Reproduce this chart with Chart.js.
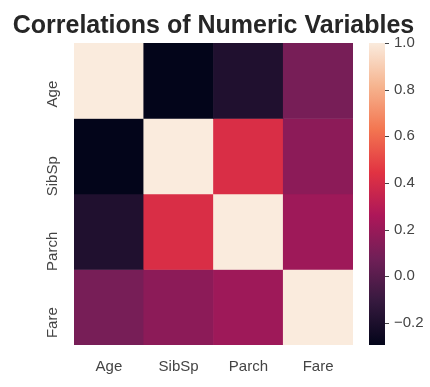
<!DOCTYPE html>
<html>
<head>
<meta charset="utf-8">
<script src="https://cdn.jsdelivr.net/npm/chart.js@4"></script>
<style>
  body { margin: 0; background: #fff; }
  #wrap { position: relative; width: 430px; height: 387px; }
  #heat { position: absolute; left: 0; top: 0; }
  #bar { position: absolute; left: 355px; top: 0; }
</style>
</head>
<body>
<div id="wrap">
  <canvas id="heat" width="430" height="387"></canvas>
  <canvas id="bar" width="75" height="387"></canvas>
</div>
<script>
var variables = ['Age', 'SibSp', 'Parch', 'Fare'];
// correlation matrix, row by row
var rowAge = [1.0, -0.295, -0.189, 0.096];
var rowSibSp = [-0.295, 1.0, 0.415, 0.160];
var rowParch = [-0.189, 0.415, 1.0, 0.216];
var rowFare = [0.096, 0.160, 0.216, 1.0];
var colorbarTicks = [-0.2, 0.0, 0.2, 0.4, 0.6, 0.8, 1.0];
var titleText = 'Correlations of Numeric Variables';

var rows = [rowAge, rowSibSp, rowParch, rowFare];
var vmin = Math.min.apply(null, rows.flat());
var vmax = 1.0;

// seaborn "rocket" colormap stops
var rocket = [
  [0.0, [3, 5, 26]],
  [1/7, [53, 25, 62]],
  [2/7, [112, 31, 87]],
  [3/7, [173, 23, 89]],
  [4/7, [225, 51, 66]],
  [5/7, [243, 118, 81]],
  [6/7, [246, 180, 143]],
  [1.0, [250, 235, 221]]
];

function rocketColor(t) {
  t = Math.max(0, Math.min(1, t));
  for (var i = 1; i < rocket.length; i++) {
    if (t <= rocket[i][0]) {
      var a = rocket[i - 1], b = rocket[i];
      var f = (t - a[0]) / (b[0] - a[0]);
      var c = a[1].map(function (v, k) { return Math.round(v + (b[1][k] - v) * f); });
      return 'rgb(' + c.join(',') + ')';
    }
  }
  return 'rgb(250,235,221)';
}
function valueColor(v) { return rocketColor((v - vmin) / (vmax - vmin)); }

var fontFamily = 'Arial, "Liberation Sans", sans-serif';
var tickFont = { family: fontFamily, size: 15 };
var tickColor = '#444444';

// title centred over the heatmap cells, like matplotlib's ax.set_title
var titlePlugin = {
  id: 'axTitle',
  afterDraw: function (chart) {
    var a = chart.chartArea, c = chart.ctx;
    c.save();
    c.fillStyle = '#262626';
    c.font = 'bold 25px ' + fontFamily;
    c.textAlign = 'center';
    c.textBaseline = 'alphabetic';
    c.fillText(titleText, (a.left + a.right) / 2, 33);
    c.restore();
  }
};

var heatCtx = document.getElementById('heat').getContext('2d');
new Chart(heatCtx, {
  type: 'bar',
  data: {
    labels: variables,
    datasets: rows.map(function (r, i) {
      return {
        label: variables[i],
        data: r.map(function () { return 1; }),
        backgroundColor: r.map(valueColor),
        borderWidth: 0,
        barPercentage: 1,
        categoryPercentage: 1
      };
    })
  },
  options: {
    responsive: false,
    animation: false,
    layout: { padding: { left: 0, right: 77, top: 43, bottom: 0 } },
    plugins: {
      legend: { display: false },
      tooltip: { enabled: false }
    },
    scales: {
      x: {
        stacked: true,
        grid: { display: false },
        border: { display: false },
        ticks: { color: tickColor, font: tickFont, padding: 5, maxRotation: 0 },
        afterFit: function (s) { s.height = 42; }
      },
      y: {
        stacked: true,
        reverse: true,
        min: 0,
        max: 4,
        grid: { display: false },
        border: { display: false },
        afterBuildTicks: function (s) {
          s.ticks = [0.5, 1.5, 2.5, 3.5].map(function (v) { return { value: v }; });
        },
        ticks: {
          color: tickColor,
          font: tickFont,
          minRotation: 90,
          maxRotation: 90,
          padding: 13,
          callback: function (v) { return variables[Math.floor(v)]; }
        },
        afterFit: function (s) { s.width = 74; }
      }
    }
  },
  plugins: [titlePlugin]
});

// colorbar
var barCtx = document.getElementById('bar').getContext('2d');
new Chart(barCtx, {
  type: 'bar',
  data: {
    labels: [''],
    datasets: [{
      data: [[vmin, vmax]],
      borderWidth: 0,
      barPercentage: 1,
      categoryPercentage: 1,
      backgroundColor: function (context) {
        var area = context.chart.chartArea;
        if (!area) return '#000';
        var g = context.chart.ctx.createLinearGradient(0, area.bottom, 0, area.top);
        rocket.forEach(function (s) { g.addColorStop(s[0], 'rgb(' + s[1].join(',') + ')'); });
        return g;
      }
    }]
  },
  options: {
    responsive: false,
    animation: false,
    layout: { padding: { left: 14, right: 0, top: 43, bottom: 42 } },
    plugins: { legend: { display: false }, tooltip: { enabled: false } },
    scales: {
      x: { display: false },
      y: {
        position: 'right',
        min: vmin,
        max: vmax,
        grid: { display: false },
        border: { display: false },
        afterBuildTicks: function (s) {
          s.ticks = colorbarTicks.map(function (v) { return { value: v }; });
        },
        ticks: {
          color: tickColor,
          font: tickFont,
          padding: 1,
          callback: function (v) {
            var t = Number(v).toFixed(1);
            return t.charAt(0) === '-' ? '\u2212' + t.slice(1) : t;
          }
        },
        afterFit: function (s) { s.width = 45; }
      }
    }
  },
  plugins: [{
    id: 'cbTicks',
    afterDraw: function (chart) {
      var s = chart.scales.y, c = chart.ctx;
      c.save();
      c.strokeStyle = '#444444';
      c.lineWidth = 1;
      colorbarTicks.forEach(function (v) {
        var y = Math.round(s.getPixelForValue(v)) + 0.5;
        c.beginPath();
        c.moveTo(s.left, y);
        c.lineTo(s.left + 4, y);
        c.stroke();
      });
      c.restore();
    }
  }]
});
</script>
</body>
</html>
